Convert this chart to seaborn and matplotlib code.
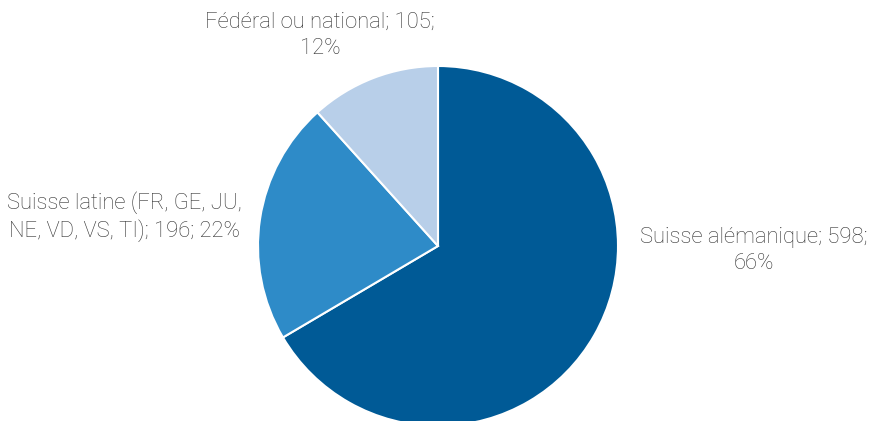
import matplotlib
matplotlib.use("Agg")
import matplotlib.pyplot as plt
import seaborn as sns

# Données
categories = ["Suisse alémanique", "Suisse latine (FR, GE, JU,\nNE, VD, VS, TI)", "Fédéral ou national"]
values = [598, 196, 105]
percents = [66, 22, 12]
colors = ["#005a96", "#2e8bc8", "#b8cfe9"]

sns.set_theme(style="white")
plt.rcParams['font.family'] = ['Roboto', 'DejaVu Sans']

fig = plt.figure(figsize=(8.7, 4.21), dpi=100)
# pie centre ~ (438, 246) px, rayon ~180 px
ax = fig.add_axes([(438 - 180) / 870, (421 - 246 - 180) / 421, 360 / 870, 360 / 421])
ax.pie(values, colors=colors, startangle=90, counterclock=False,
       wedgeprops=dict(edgecolor="white", linewidth=1.5), radius=1)
ax.set_xlim(-1, 1)
ax.set_ylim(-1, 1)
ax.set_aspect("equal")
ax.axis("off")

label_pos = [(1.756, -0.025), (-1.744, 0.165), (-0.656, 1.17)]
for cat, v, p, (x, y) in zip(categories, values, percents, label_pos):
    if cat.startswith("Suisse latine"):
        txt = f"{cat}; {v}; {p}%"
    else:
        txt = f"{cat}; {v};\n{p}%"
    ax.text(x, y, txt, ha="center", va="center", fontsize=15.8,
            fontweight="light", color="#333333", linespacing=1.3,
            clip_on=False)

fig.savefig("out.png", dpi=100)
